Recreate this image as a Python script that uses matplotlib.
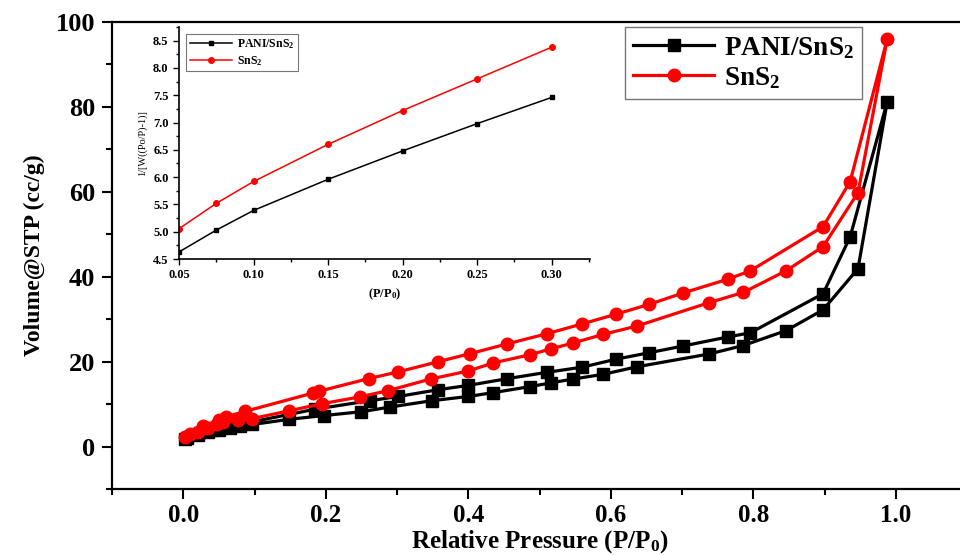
import numpy as np
import matplotlib.pyplot as plt
from matplotlib.ticker import MultipleLocator, FormatStrFormatter

plt.rcParams['font.family'] = ['Liberation Serif', 'DejaVu Serif']
plt.rcParams['font.weight'] = 'bold'
plt.rcParams['axes.labelweight'] = 'bold'
plt.rcParams['mathtext.fontset'] = 'custom'
plt.rcParams['mathtext.rm'] = 'Liberation Serif:bold'
plt.rcParams['mathtext.it'] = 'Liberation Serif:bold'
plt.rcParams['mathtext.bf'] = 'Liberation Serif:bold'

# Isotherma PANI/SnS2: adsorcion y desorcion
pani_ads_x = [0.003, 0.02, 0.035, 0.05, 0.065, 0.08, 0.097, 0.148, 0.197, 0.25, 0.29, 0.349, 0.40,
              0.435, 0.486, 0.516, 0.547, 0.589, 0.637, 0.738, 0.786, 0.846, 0.898, 0.947, 0.988]
pani_ads_y = [1.8, 2.8, 3.4, 3.9, 4.3, 4.8, 5.2, 6.4, 7.3, 8.2, 9.3, 10.8, 11.8,
              12.7, 14.1, 15.0, 15.9, 17.0, 18.8, 21.8, 23.8, 27.3, 32.2, 41.9, 81.2]
pani_des_x = [0.936, 0.898, 0.796, 0.764, 0.702, 0.654, 0.608, 0.560, 0.511, 0.455,
              0.400, 0.358, 0.302, 0.262, 0.185, 0.09, 0.06, 0.04, 0.02, 0.005]
pani_des_y = [49.4, 36.0, 26.8, 25.8, 23.7, 22.1, 20.6, 18.7, 17.5, 16.0,
              14.4, 13.4, 11.8, 10.8, 8.8, 5.6, 4.6, 4.0, 3.0, 2.0]

# Isotherma SnS2
sns2_ads_x = [0.003, 0.02, 0.035, 0.047, 0.056, 0.077, 0.097, 0.148, 0.195, 0.248, 0.288, 0.347, 0.40,
              0.435, 0.486, 0.516, 0.547, 0.589, 0.637, 0.738, 0.786, 0.846, 0.898, 0.947, 0.988]
sns2_ads_y = [2.2, 3.4, 4.3, 5.2, 5.7, 6.3, 6.6, 8.4, 10.1, 11.7, 13.2, 15.9, 17.8,
              19.7, 21.6, 23.0, 24.4, 26.4, 28.4, 33.9, 36.3, 41.4, 47.1, 59.8, 96.0]
sns2_des_x = [0.936, 0.898, 0.796, 0.764, 0.702, 0.654, 0.608, 0.560, 0.511, 0.455,
              0.403, 0.358, 0.302, 0.260, 0.190, 0.182, 0.087, 0.060, 0.050, 0.028, 0.010]
sns2_des_y = [62.4, 51.8, 41.4, 39.4, 36.2, 33.5, 31.2, 28.9, 26.6, 24.2,
              21.9, 20.0, 17.6, 16.0, 13.0, 12.6, 8.3, 7.0, 6.3, 4.8, 3.0]

# Grafica BET (inset)
bet_x = [0.05, 0.075, 0.10, 0.15, 0.20, 0.25, 0.30]
bet_pani = [4.63, 5.03, 5.39, 5.96, 6.48, 6.98, 7.46]
bet_sns2 = [5.055, 5.52, 5.92, 6.60, 7.22, 7.80, 8.38]

fig = plt.figure(figsize=(9.6, 5.55), dpi=100)
ax = fig.add_axes([0.1167, 0.1189, 0.8906, 0.8415])

ax.plot(pani_ads_x + pani_des_x, pani_ads_y + pani_des_y, color='black', lw=2.3,
        marker='s', ms=8, label='PANI/SnS$_2$')
ax.plot(sns2_ads_x + sns2_des_x, sns2_ads_y + sns2_des_y, color='#ff0000', lw=2.3,
        marker='o', ms=9, label='SnS$_2$')

ax.set_xlim(-0.1, 1.1)
ax.set_ylim(-10, 100)
ax.xaxis.set_major_locator(MultipleLocator(0.2))
ax.xaxis.set_minor_locator(MultipleLocator(0.1))
ax.yaxis.set_major_locator(MultipleLocator(20))
ax.yaxis.set_minor_locator(MultipleLocator(10))
ax.xaxis.set_major_formatter(FormatStrFormatter('%.1f'))
ax.tick_params(which='both', direction='out', width=1.5, top=False, right=False)
ax.tick_params(axis='y', labelsize=19, pad=5)
ax.tick_params(axis='x', labelsize=18)
ax.tick_params(which='major', length=7)
ax.tick_params(which='minor', length=4)
for s in ax.spines.values():
    s.set_linewidth(1.6)
ax.set_xlabel('Relative Pressure (P/P$_0$)', fontsize=18, labelpad=1)
ax.set_ylabel('Volume@STP (cc/g)', fontsize=17, labelpad=8)

leg = ax.legend(loc='upper left', bbox_to_anchor=(0.651, 0.952), bbox_transform=fig.transFigure,
                fontsize=19.5, frameon=True, fancybox=False, edgecolor='#555555',
                handlelength=3.0, handletextpad=0.35, borderaxespad=0, borderpad=0.3,
                labelspacing=0.15)
leg.get_frame().set_linewidth(1.0)

# Inset
ins = fig.add_axes([0.1865, 0.5333, 0.4281, 0.4181])
ins.plot(bet_x, bet_pani, color='black', lw=1.1, marker='s', ms=3.5, label='PANI/SnS$_2$')
ins.plot(bet_x, bet_sns2, color='#ff0000', lw=1.1, marker='o', ms=4, label='SnS$_2$')
ins.set_xlim(0.05, 0.3257)
ins.set_ylim(4.5, 8.75)
ins.xaxis.set_major_locator(MultipleLocator(0.05))
ins.xaxis.set_minor_locator(MultipleLocator(0.025))
ins.yaxis.set_major_locator(MultipleLocator(0.5))
ins.yaxis.set_minor_locator(MultipleLocator(0.25))
ins.xaxis.set_major_formatter(FormatStrFormatter('%.2f'))
ins.yaxis.set_major_formatter(FormatStrFormatter('%.1f'))
ins.tick_params(which='both', direction='out', width=1.0, labelsize=9)
ins.tick_params(which='major', length=4)
ins.tick_params(which='minor', length=2)
ins.spines['top'].set_visible(False)
ins.spines['right'].set_visible(False)
for s in ['left', 'bottom']:
    ins.spines[s].set_linewidth(1.2)
ins.set_xlabel('(P/P$_0$)', fontsize=9, labelpad=4)
ins.set_ylabel('1/[W((Po/P)-1)]', fontsize=7.5, fontweight='normal', labelpad=4)
ins.patch.set_alpha(0)
il = ins.legend(loc='upper left', fontsize=8.5, frameon=True, fancybox=False, edgecolor='#555555',
                handlelength=3.6, handletextpad=0.4, borderpad=0.3, labelspacing=0.2,
                borderaxespad=0.6)
il.get_frame().set_linewidth(0.8)

fig.savefig('out.png', dpi=100)
